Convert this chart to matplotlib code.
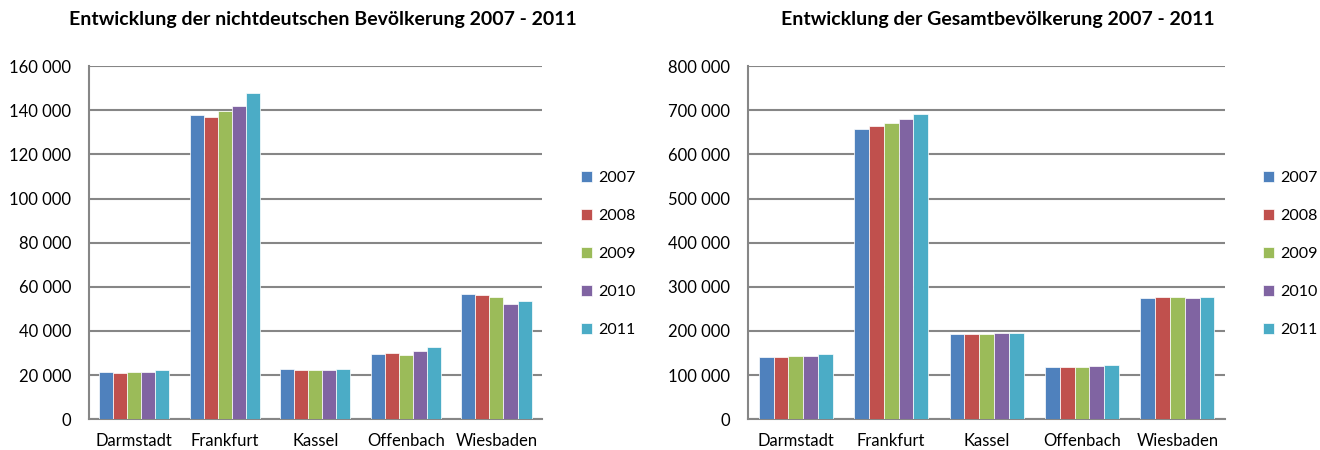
import matplotlib
matplotlib.use("Agg")
import matplotlib.pyplot as plt
import numpy as np
from matplotlib.ticker import FuncFormatter

cities = ["Darmstadt", "Frankfurt", "Kassel", "Offenbach", "Wiesbaden"]
years = ["2007", "2008", "2009", "2010", "2011"]
colors = ["#4F81BD", "#C0504D", "#9BBB59", "#8064A2", "#4BACC6"]

# nichtdeutsche Bevölkerung, one list per year (values per city)
foreign_2007 = [21600, 137800, 22800, 29600, 56600]
foreign_2008 = [21100, 137100, 22300, 30000, 56200]
foreign_2009 = [21300, 139800, 22300, 29300, 55500]
foreign_2010 = [21400, 141700, 22200, 30900, 52400]
foreign_2011 = [22200, 147800, 22600, 32600, 53600]

# Gesamtbevölkerung
total_2007 = [141900, 657400, 193200, 117700, 274700]
total_2008 = [141900, 664200, 193200, 118500, 276200]
total_2009 = [142600, 670900, 194000, 117700, 276200]
total_2010 = [144200, 679200, 194700, 120800, 274700]
total_2011 = [147900, 690600, 196200, 122300, 277700]

foreign = [foreign_2007, foreign_2008, foreign_2009, foreign_2010, foreign_2011]
total = [total_2007, total_2008, total_2009, total_2010, total_2011]

title_left = "Entwicklung der nichtdeutschen Bevölkerung 2007 - 2011"
title_right = "Entwicklung der Gesamtbevölkerung 2007 - 2011"

FONT = ["Lato", "DejaVu Sans"]
plt.rcParams['font.family'] = FONT

fig = plt.figure(figsize=(13.2, 4.5), dpi=100)

def fmt(v, pos):
    return f"{int(v):,}".replace(",", " ")

def draw(ax, data, ymax, step, title, title_x, leg_x):
    x = np.arange(len(cities))
    n = len(years)
    bw = 0.155
    for i, (yr, vals) in enumerate(zip(years, data)):
        ax.bar(x + (i - (n - 1) / 2) * bw, vals, width=bw, color=colors[i],
               edgecolor="white", linewidth=0.5, label=yr, zorder=3)
    ax.set_xlim(-0.5, len(cities) - 0.5)
    ax.set_ylim(0, ymax)
    ax.set_yticks(np.arange(0, ymax + 1, step))
    ax.yaxis.set_major_formatter(FuncFormatter(fmt))
    ax.set_xticks(x)
    ax.set_xticklabels(cities)
    ax.grid(axis="y", color="#868686", linewidth=1.5, zorder=0)
    for s in ["top", "right"]:
        ax.spines[s].set_visible(False)
    for s in ["left", "bottom"]:
        ax.spines[s].set_color("#868686")
        ax.spines[s].set_linewidth(1.5)
    ax.tick_params(axis="both", length=0, labelsize=12, colors="black")
    ax.tick_params(axis="y", pad=13)
    ax.tick_params(axis="x", pad=10)
    fig.text(title_x, 0.956, title, ha="center", va="center",
             fontsize=14, fontweight="bold")
    ax.legend(loc="center left", bbox_to_anchor=(leg_x, 0.4356),
              bbox_transform=fig.transFigure, borderaxespad=0, borderpad=0,
              frameon=False, fontsize=11.5, handlelength=0.68, handleheight=0.68,
              handletextpad=0.4, labelspacing=1.5)

ax1 = fig.add_axes([0.0674, 0.0682, 0.343, 0.785])
draw(ax1, foreign, 160000, 20000, title_left, 0.2447, 581 / 1320)
ax2 = fig.add_axes([0.5667, 0.0682, 0.3614, 0.785])
draw(ax2, total, 800000, 100000, title_right, 0.756, 1263 / 1320)

fig.savefig("out.png", dpi=100)
